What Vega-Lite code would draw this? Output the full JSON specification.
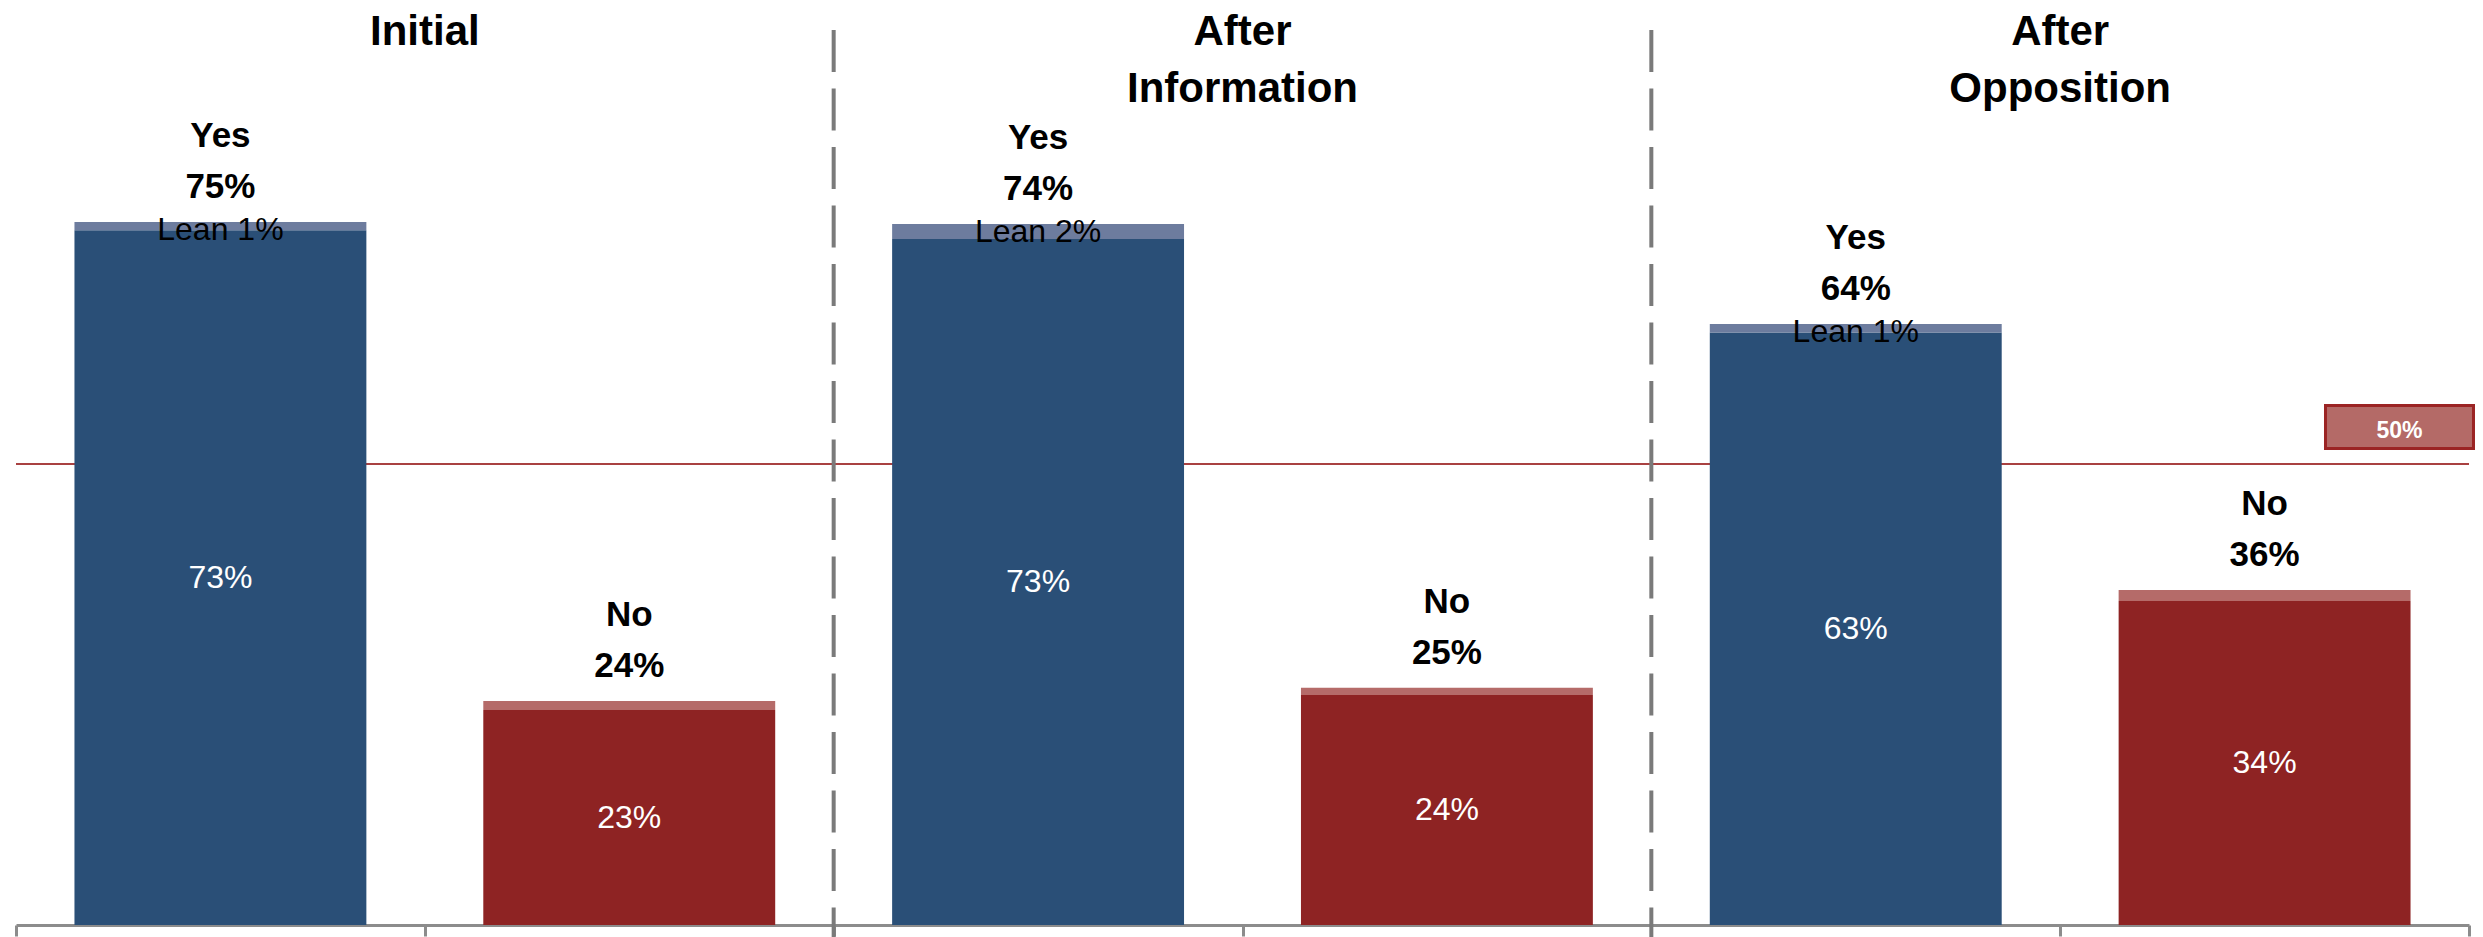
{
  "$schema": "https://vega.github.io/schema/vega-lite/v6.json",
  "width": 2453,
  "height": 922,
  "autosize": {"type": "none"},
  "padding": {"left": 16, "top": 3, "right": 14, "bottom": 12},
  "background": "white",
  "config": {
    "view": {"stroke": null},
    "text": {"font": "Liberation Sans"},
    "axisX": {"title": null, "labels": false, "grid": false, "tickBand": "extent", "domainColor": "#8c8c8c", "domainWidth": 3, "tickColor": "#8c8c8c", "tickWidth": 3, "tickSize": 11}
  },
  "datasets": {
    "bars": [
      {"bar": "Initial Yes", "segment": "Yes firm", "part": "firm", "value": 73.84, "label": "73%", "lean": "", "total": "", "answer": ""},
      {"bar": "Initial Yes", "segment": "Yes lean", "part": "lean", "value": 0.88, "label": "", "lean": "Lean 1%", "total": "75%", "answer": "Yes"},
      {"bar": "Initial No", "segment": "No firm", "part": "firm", "value": 22.85, "label": "23%", "lean": "", "total": "", "answer": ""},
      {"bar": "Initial No", "segment": "No lean", "part": "lean", "value": 0.96, "label": "", "lean": "", "total": "24%", "answer": "No"},
      {"bar": "After Information Yes", "segment": "Yes firm", "part": "firm", "value": 72.92, "label": "73%", "lean": "", "total": "", "answer": ""},
      {"bar": "After Information Yes", "segment": "Yes lean", "part": "lean", "value": 1.59, "label": "", "lean": "Lean 2%", "total": "74%", "answer": "Yes"},
      {"bar": "After Information No", "segment": "No firm", "part": "firm", "value": 24.45, "label": "24%", "lean": "", "total": "", "answer": ""},
      {"bar": "After Information No", "segment": "No lean", "part": "lean", "value": 0.78, "label": "", "lean": "", "total": "25%", "answer": "No"},
      {"bar": "After Opposition Yes", "segment": "Yes firm", "part": "firm", "value": 62.97, "label": "63%", "lean": "", "total": "", "answer": ""},
      {"bar": "After Opposition Yes", "segment": "Yes lean", "part": "lean", "value": 0.91, "label": "", "lean": "Lean 1%", "total": "64%", "answer": "Yes"},
      {"bar": "After Opposition No", "segment": "No firm", "part": "firm", "value": 34.44, "label": "34%", "lean": "", "total": "", "answer": ""},
      {"bar": "After Opposition No", "segment": "No lean", "part": "lean", "value": 1.17, "label": "", "lean": "", "total": "36%", "answer": "No"}
    ],
    "titles": [
      {"bar": "Initial No", "title": "Initial"},
      {"bar": "After Information No", "title": "After\nInformation"},
      {"bar": "After Opposition No", "title": "After\nOpposition"}
    ],
    "dividers": [
      {"bar": "After Information Yes"},
      {"bar": "After Opposition Yes"}
    ]
  },
  "layer": [
    {
      "data": {"values": [{"threshold": 49}]},
      "mark": {"type": "rule", "color": "#a94141", "strokeWidth": 2},
      "encoding": {
        "y": {"field": "threshold", "type": "quantitative", "axis": null}
      }
    },
    {
      "data": {"name": "bars"},
      "mark": {"type": "bar", "width": {"band": 0.714}},
      "encoding": {
        "x": {
          "field": "bar", "type": "nominal",
          "scale": {"domain": ["Initial Yes", "Initial No", "After Information Yes", "After Information No", "After Opposition Yes", "After Opposition No"], "paddingInner": 0, "paddingOuter": 0},
          "axis": {"title": null, "labels": false, "grid": false, "tickBand": "extent", "domainColor": "#8c8c8c", "domainWidth": 3, "tickColor": "#8c8c8c", "tickWidth": 3, "tickSize": 11}
        },
        "y": {"field": "value", "type": "quantitative", "stack": "zero", "scale": {"domain": [0, 98], "nice": false}, "axis": null},
        "color": {
          "field": "segment", "type": "nominal",
          "scale": {"domain": ["Yes firm", "Yes lean", "No firm", "No lean"], "range": ["#2a4f77", "#6d7c9e", "#8e2323", "#b56b69"]},
          "legend": null
        },
        "order": {"field": "part", "sort": "ascending"}
      }
    },
    {
      "data": {"name": "dividers"},
      "mark": {"type": "rule", "color": "#7a7a7a", "strokeWidth": 4, "strokeDash": [42, 16.5]},
      "encoding": {
        "x": {"field": "bar", "type": "nominal", "bandPosition": 0, "axis": {"title": null}},
        "y": {"datum": 95.13, "axis": null},
        "y2": {"datum": -1.28}
      }
    },
    {
      "data": {"name": "bars"},
      "transform": [{"filter": "datum.part === 'firm'"}],
      "mark": {"type": "text", "color": "white", "fontSize": 32, "baseline": "middle", "align": "center"},
      "encoding": {
        "x": {"field": "bar", "type": "nominal", "axis": {"title": null}},
        "y": {"field": "value", "type": "quantitative", "stack": "zero", "bandPosition": 0.5, "axis": null},
        "text": {"field": "label"}
      }
    },
    {
      "data": {"name": "bars"},
      "mark": {"type": "text", "color": "black", "fontSize": 32, "baseline": "alphabetic", "align": "center", "dy": 18},
      "encoding": {
        "x": {"field": "bar", "type": "nominal", "axis": {"title": null}},
        "y": {"field": "value", "type": "quantitative", "stack": "zero", "axis": null},
        "detail": {"field": "segment"},
        "order": {"field": "part", "sort": "ascending"},
        "text": {"field": "lean"}
      }
    },
    {
      "data": {"name": "bars"},
      "mark": {"type": "text", "color": "black", "fontSize": 35, "fontWeight": "bold", "baseline": "alphabetic", "align": "center", "dy": -24},
      "encoding": {
        "x": {"field": "bar", "type": "nominal", "axis": {"title": null}},
        "y": {"field": "value", "type": "quantitative", "stack": "zero", "axis": null},
        "detail": {"field": "segment"},
        "order": {"field": "part", "sort": "ascending"},
        "text": {"field": "total"}
      }
    },
    {
      "data": {"name": "bars"},
      "mark": {"type": "text", "color": "black", "fontSize": 35, "fontWeight": "bold", "baseline": "alphabetic", "align": "center", "dy": -75},
      "encoding": {
        "x": {"field": "bar", "type": "nominal", "axis": {"title": null}},
        "y": {"field": "value", "type": "quantitative", "stack": "zero", "axis": null},
        "detail": {"field": "segment"},
        "order": {"field": "part", "sort": "ascending"},
        "text": {"field": "answer"}
      }
    },
    {
      "data": {"name": "titles"},
      "mark": {"type": "text", "color": "black", "fontSize": 42, "fontWeight": "bold", "baseline": "alphabetic", "align": "center", "lineBreak": "\n", "lineHeight": 57},
      "encoding": {
        "x": {"field": "bar", "type": "nominal", "bandPosition": 0, "axis": {"title": null}},
        "y": {"datum": 93.54, "axis": null},
        "text": {"field": "title"}
      }
    },
    {
      "data": {"values": [{"label": "50%"}]},
      "mark": {"type": "point", "shape": "M-1,-0.29L1,-0.29L1,0.29L-1,0.29Z", "size": 21904, "filled": true, "fill": "#b46a67", "stroke": "#9b2424", "strokeWidth": 3, "opacity": 1},
      "encoding": {
        "x": {"datum": "After Opposition No", "type": "nominal", "bandPosition": 0.83, "axis": {"title": null}},
        "y": {"datum": 52.93, "axis": null}
      }
    },
    {
      "data": {"values": [{"label": "50%"}]},
      "mark": {"type": "text", "color": "white", "fontSize": 23, "fontWeight": "bold", "baseline": "middle", "align": "center", "dy": 4},
      "encoding": {
        "x": {"datum": "After Opposition No", "type": "nominal", "bandPosition": 0.83, "axis": {"title": null}},
        "y": {"datum": 52.93, "axis": null},
        "text": {"field": "label"}
      }
    }
  ]
}
